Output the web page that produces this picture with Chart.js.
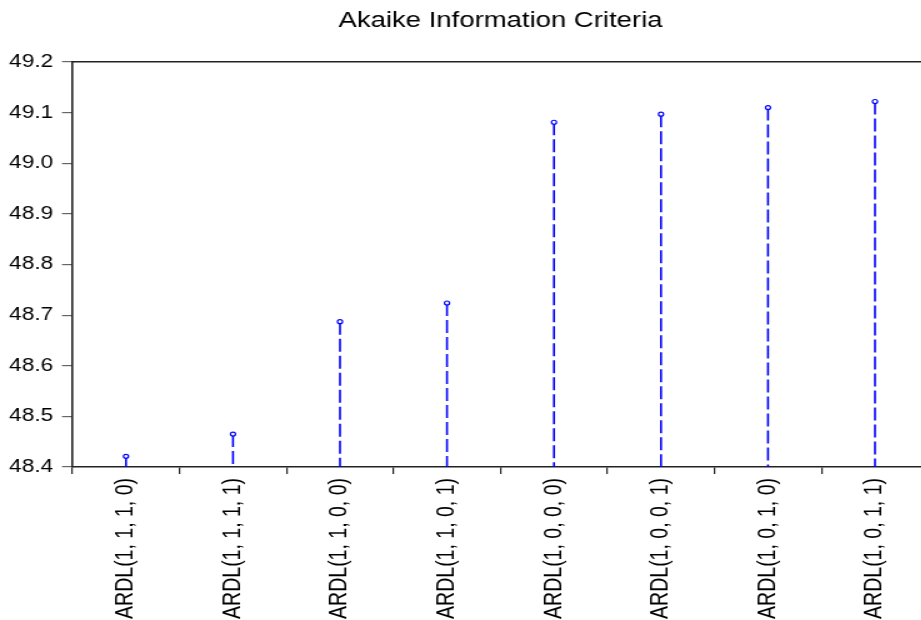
<!DOCTYPE html>
<html>
<head>
<meta charset="utf-8">
<script src="https://cdn.jsdelivr.net/npm/chart.js@4"></script>
<style>
  html, body { margin: 0; padding: 0; background: #fff; overflow: hidden; width: 921px; height: 620px; }
  /* the source picture is stretched sideways, so the chart is drawn narrow and widened */
  #wrap { transform: scaleX(1.25); transform-origin: 0 0; width: 748px; height: 620px; }
</style>
</head>
<body>
<div id="wrap"><canvas id="aicChart" width="748" height="620"></canvas></div>
<script>
const models = ['ARDL(1, 1, 1, 0)', 'ARDL(1, 1, 1, 1)', 'ARDL(1, 1, 0, 0)', 'ARDL(1, 1, 0, 1)',
                'ARDL(1, 0, 0, 0)', 'ARDL(1, 0, 0, 1)', 'ARDL(1, 0, 1, 0)', 'ARDL(1, 0, 1, 1)'];
const aicValues = [48.421, 48.465, 48.687, 48.724, 49.081, 49.097, 49.110, 49.122];
const yMin = 48.4;
const yMax = 49.2;
const yStep = 0.1;

const STEM_COLOR = '#0000ff';
const AXIS_COLOR = '#222222';
const FONT = 'Liberation Sans, Arial, sans-serif';

// each stem: value point, then baseline point, then a gap
const stemPoints = [];
models.forEach((m, i) => {
    stemPoints.push({ x: m, y: aicValues[i] });
    stemPoints.push({ x: m, y: yMin });
    stemPoints.push({ x: m, y: null });
});

new Chart(document.getElementById('aicChart'), {
    type: 'line',
    data: {
        labels: models,
        datasets: [{
            data: stemPoints,
            borderColor: STEM_COLOR,
            borderWidth: 1.6,
            borderDash: [13, 4],
            spanGaps: false,
            tension: 0,
            pointRadius: ctx => (ctx.dataIndex % 3 === 0 ? 2 : 0),
            pointBorderWidth: 1.2,
            pointBorderColor: STEM_COLOR,
            pointBackgroundColor: '#ffffff',
            clip: false
        }]
    },
    options: {
        responsive: false,
        animation: false,
        devicePixelRatio: 1,
        layout: { padding: { left: 0, right: 1, top: 0, bottom: 0 } },
        plugins: {
            legend: { display: false },
            tooltip: { enabled: false },
            title: {
                display: true,
                text: 'Akaike Information Criteria',
                fullSize: false,
                color: '#000',
                font: { family: FONT, size: 22, weight: 'normal', lineHeight: 1.2 },
                padding: { top: 8, bottom: 27.6 }
            }
        },
        scales: {
            x: {
                type: 'category',
                offset: true,
                grid: { display: true, drawOnChartArea: false, offset: true, drawTicks: true, tickLength: 7, color: AXIS_COLOR, lineWidth: 1.2 },
                border: { display: true, color: AXIS_COLOR, width: 1.6 },
                ticks: {
                    autoSkip: false, maxRotation: 90, minRotation: 90, padding: 4,
                    color: '#000', font: { family: FONT, size: 19.5 }
                },
                afterFit: s => { s.height = 153; }
            },
            xTop: {
                type: 'category',
                position: 'top',
                grid: { display: false, drawTicks: false },
                border: { display: true, color: AXIS_COLOR, width: 1.6 },
                ticks: { display: false },
                afterFit: s => { s.height = 0; }
            },
            y: {
                min: yMin,
                max: yMax,
                grid: { display: true, drawOnChartArea: false, drawTicks: true, tickLength: 8.4, color: '#666666', lineWidth: 1.2 },
                border: { display: true, color: AXIS_COLOR, width: 1.6 },
                ticks: {
                    stepSize: yStep, padding: 7.2, color: '#000',
                    font: { family: FONT, size: 18 },
                    callback: v => Number(v).toFixed(1)
                },
                afterFit: s => { s.width = 58; }
            }
        }
    }
});
</script>
</body>
</html>
